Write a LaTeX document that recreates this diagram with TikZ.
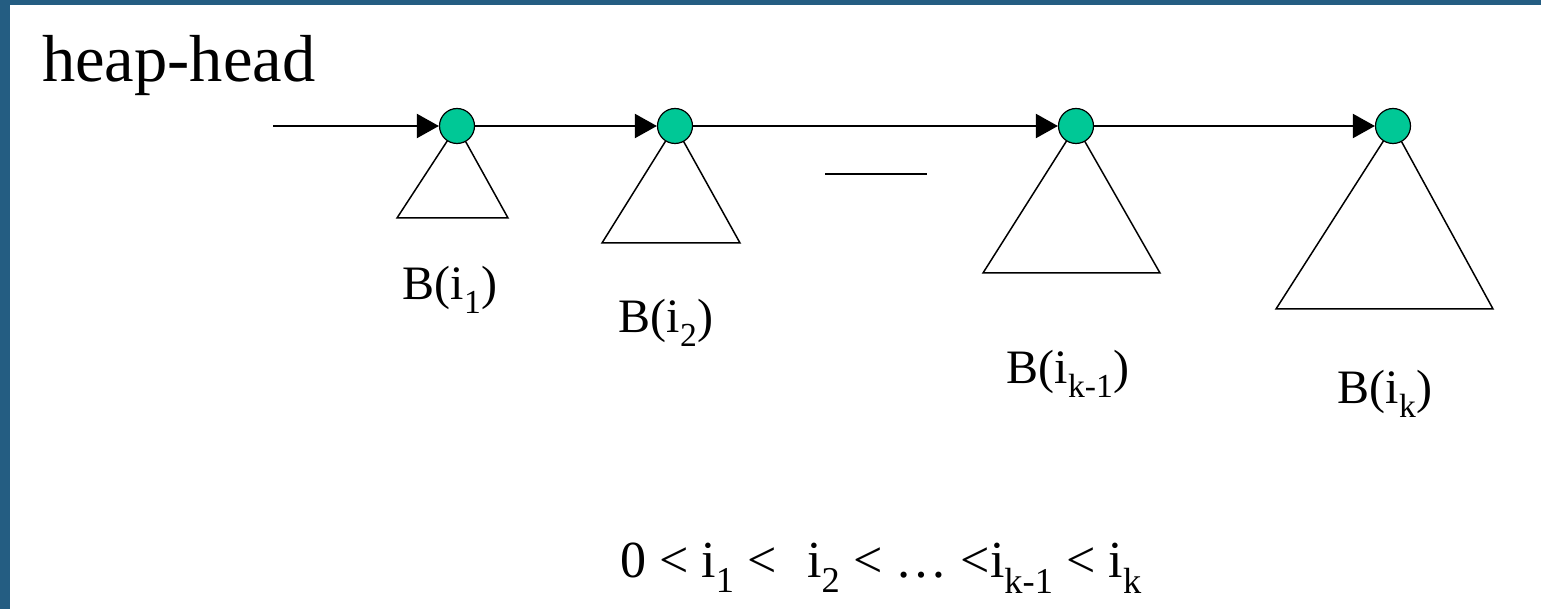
\documentclass[tikz,border=0pt]{standalone}
\usepackage{fontspec}
\setmainfont{Liberation Serif}
\usetikzlibrary{arrows.meta}
\definecolor{root_green}{HTML}{00C896}
\definecolor{frame_dark}{HTML}{245D82}
\definecolor{frame_light}{HTML}{4A90BD}

\begin{document}
\begin{tikzpicture}[
                x=1pt, y=-1pt,
                root/.style={circle, draw=black, line width=1.2pt, fill=root_green, minimum size=35pt, inner sep=0pt},
                tree/.style={line width=1.5pt},
                link/.style={line width=2pt, -{Triangle[length=22pt, width=24pt]}},
                btext/.style={font=\fontsize{48}{58}\selectfont, anchor=base, inner sep=0pt}
            ]
                % Frame
                \useasboundingbox (0,0) rectangle (1541,609);
                \fill[white] (0,0) rectangle (1541,609);
                \fill[frame_dark] (0,0) rectangle (10,609);
                \shade[left color=frame_dark, middle color=frame_light, right color=frame_dark] (0,0) rectangle (1541,5);

                % Trees
                \draw [tree] (457,126) -- (397,218) -- (508,218) -- cycle;
                \draw [tree] (675,126) -- (602,243) -- (740,243) -- cycle;
                \draw [tree] (1076,126) -- (983,273) -- (1160,273) -- cycle;
                \draw [tree] (1393,126) -- (1276,309) -- (1493,309) -- cycle;

                % Nodes
                \node (head) [font=\fontsize{66.5}{80}\selectfont, anchor=base west, inner sep=0pt] at (42,82) {heap-head};
                \coordinate (start) at (273,126);
                \node (r1) [root] at (457,126) {};
                \node (r2) [root] at (675,126) {};
                \node (r3) [root] at (1076,126) {};
                \node (r4) [root] at (1393,126) {};
                \coordinate (gapl) at (825,174);
                \coordinate (gapr) at (927,174);

                \node (b1) [btext] at (450,300) {B(i\textsubscript{1})};
                \node (b2) [btext] at (666,333) {B(i\textsubscript{2})};
                \node (b3) [btext] at (1068,383) {B(i\textsubscript{k-1})};
                \node (b4) [btext] at (1385,403) {B(i\textsubscript{k})};
                \node (order) [btext, font=\fontsize{52}{62}\selectfont] at (881,577) {0 < i\textsubscript{1} <\,\, i\textsubscript{2} < \dots\ <i\textsubscript{k-1} < i\textsubscript{k}};

                % Arrows
                \draw [link] (start) -- (r1);
                \draw [link] (r1) -- (r2);
                \draw [link] (r2) -- (r3);
                \draw [link] (r3) -- (r4);
                \draw [line width=2pt] (gapl) -- (gapr);
            \end{tikzpicture}
\end{document}
